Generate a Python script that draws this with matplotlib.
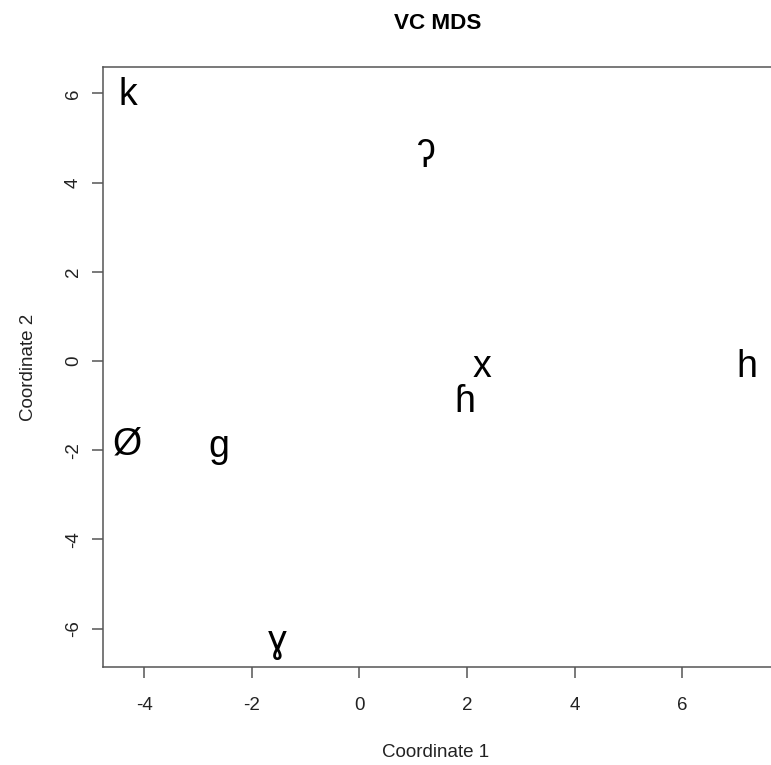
import matplotlib.pyplot as plt
import matplotlib.transforms as mtransforms

# MDS coordinates for each consonant
labels = ["k", "ʔ", "x", "h", "ɦ", "Ø", "g", "ɣ"]
coord1 = [-4.30, 1.25, 2.28, 7.20, 1.95, -4.31, -2.61, -1.53]
coord2 = [6.04, 4.65, -0.06, -0.06, -0.84, -1.80, -1.85, -6.22]

x_ticks = [-4, -2, 0, 2, 4, 6]
y_ticks = [-6, -4, -2, 0, 2, 4, 6]

W, H = 771, 765
fonts = ["Liberation Sans", "DejaVu Sans"]
plt.rcParams["font.family"] = fonts

fig = plt.figure(figsize=(W / 100, H / 100), dpi=100)
left, right, top, bottom = 103, 773, 67, 667
ax = fig.add_axes([left / W, 1 - bottom / H, (right - left) / W, (bottom - top) / H])

ax.set_xlim(-4.77, 7.69)
ax.set_ylim(-6.86, 6.59)

# text labels centred on the point (half cap height below as baseline)
label_size = 27
for lab, cx, cy in zip(labels, coord1, coord2):
    off = mtransforms.offset_copy(ax.transData, fig=fig, x=0, y=-0.358 * label_size, units="points")
    ax.text(cx, cy, lab, fontsize=label_size, ha="center", va="baseline",
            transform=off, family=fonts, color="black")

ax.set_xticks(x_ticks, [str(t) for t in x_ticks])
ax.set_yticks(y_ticks, [str(t) for t in y_ticks], rotation=90, va="center")

axis_col = "#555555"
for s in ax.spines.values():
    s.set_color(axis_col)
    s.set_linewidth(1.1)
ax.tick_params(axis="both", direction="out", length=8, width=1.1, color=axis_col,
               labelsize=13.5, labelcolor="#222222")
ax.tick_params(axis="x", pad=13.7)
ax.tick_params(axis="y", pad=7.2)

cx_fig = (left + right) / 2 / W
fig.text(437.5 / W, 1 - 29 / H, "VC MDS", fontsize=16.2, fontweight="bold",
         ha="center", va="baseline")
fig.text(436 / W, 1 - 757 / H, "Coordinate 1", fontsize=13.5, ha="center",
         va="baseline", color="#222222")
fig.text(33 / W, 1 - 367 / H, "Coordinate 2", fontsize=13.5, ha="center",
         va="baseline", rotation=90, rotation_mode="anchor", color="#222222")

fig.savefig("out.png", dpi=100)
